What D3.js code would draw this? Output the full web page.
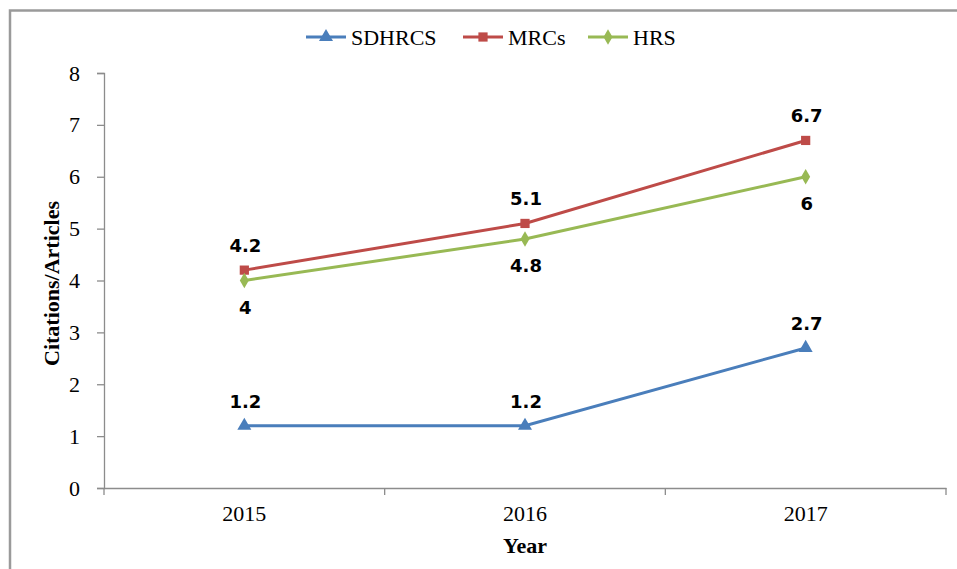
<!DOCTYPE html>
<html><head><meta charset="utf-8">
<script src="https://cdn.jsdelivr.net/npm/d3@7"></script>
<style>body{margin:0;background:#fff;}svg{display:block;}
.serif{font-family:"Liberation Serif","Times New Roman",Times,serif;}
.lbl{font-family:"DejaVu Sans",Verdana,sans-serif;font-weight:bold;font-size:18px;}
</style>
</head><body>
<script>
const years = ["2015", "2016", "2017"];
const seriesNames = ["SDHRCS", "MRCs", "HRS"];
const sdhrcs = [1.2, 1.2, 2.7];
const mrcs = [4.2, 5.1, 6.7];
const hrs = [4, 4.8, 6];
const yTicks = [0, 1, 2, 3, 4, 5, 6, 7, 8];
const colors = ["#4A7EBB", "#BE4B48", "#98B954"];
const labelPos = [["above","above","above"],["above","above","above"],["below","below","below"]];

(function(){
const W = 957, H = 569;
const svg = d3.select("body").append("svg").attr("width", W).attr("height", H);
svg.append("rect").attr("width", W).attr("height", H).attr("fill", "#fff");
svg.append("path").attr("d", `M10,${H} L10,10.5 L${W},10.5`).attr("fill","none").attr("stroke","#9a9a9a").attr("stroke-width",2.5);

const pL = 104, pR = 946, pT = 73, pB = 488;
const x = d3.scaleBand().domain(years).range([pL, pR]);
const y = d3.scaleLinear().domain([0, 8]).range([pB, pT]);

const axisColor = "#8c8c8c";
const yAxis = svg.append("g").attr("transform", `translate(${pL},0)`)
  .call(d3.axisLeft(y).tickValues(yTicks).tickSize(7).tickPadding(17).tickFormat(d3.format("d")));
const xAxis = svg.append("g").attr("transform", `translate(0,${pB})`)
  .call(d3.axisBottom(x).tickSize(0).tickPadding(17));
[yAxis, xAxis].forEach(g => {
  g.attr("font-family", null).attr("font-size", null);
  g.select(".domain").attr("stroke", axisColor).attr("stroke-width", 1.3);
  g.selectAll(".tick line").attr("stroke", axisColor).attr("stroke-width", 1.3);
  g.selectAll("text").attr("fill", "#000").attr("class", "serif").style("font-size", "22px");
});
const bounds = [pL].concat(years.map(yv => x(yv) + x.bandwidth()));
svg.append("g").selectAll("line").data(bounds).join("line")
  .attr("x1", d => d).attr("x2", d => d).attr("y1", pB).attr("y2", pB + 7)
  .attr("stroke", axisColor).attr("stroke-width", 1.3);

svg.append("text").attr("class", "serif").attr("x", (pL + pR) / 2).attr("y", 553).attr("text-anchor", "middle")
  .style("font-size", "22px").style("font-weight", "bold").text("Year");
svg.append("text").attr("class", "serif").attr("transform", `translate(59,${(pT + pB) / 2 + 3}) rotate(-90)`).attr("text-anchor", "middle")
  .style("font-size", "22px").style("font-weight", "bold").text("Citations/Articles");

const data = [sdhrcs, mrcs, hrs];
const cx = d => x(d) + x.bandwidth() / 2;
const symbols = [d3.symbolTriangle, d3.symbolSquare, d3.symbolDiamond];
const symSize = [85, 85, 70];

const line = d3.line().x((d, i) => cx(years[i])).y(d => y(d));
data.forEach((vals, s) => {
  svg.append("path").datum(vals).attr("d", line).attr("fill", "none")
    .attr("stroke", colors[s]).attr("stroke-width", 3);
  svg.append("g").selectAll("path").data(vals).join("path")
    .attr("transform", (d, i) => `translate(${cx(years[i])},${y(d)})`)
    .attr("d", d3.symbol().type(symbols[s]).size(symSize[s])).attr("fill", colors[s]);
  svg.append("g").selectAll("text").data(vals).join("text")
    .attr("class", "lbl")
    .attr("x", (d, i) => cx(years[i]) + 1)
    .attr("y", (d, i) => labelPos[s][i] === "above" ? y(d) - 18 : y(d) + 33)
    .attr("text-anchor", "middle")
    .text(d => d);
});

const legX = [306, 463, 588];
seriesNames.forEach((n, s) => {
  const g = svg.append("g").attr("transform", `translate(${legX[s]},37)`);
  g.append("line").attr("x1", 0).attr("x2", 40).attr("stroke", colors[s]).attr("stroke-width", 3);
  g.append("path").attr("transform", "translate(20,0)").attr("d", d3.symbol().type(symbols[s]).size(symSize[s])).attr("fill", colors[s]);
  g.append("text").attr("class", "serif").attr("x", 45).attr("y", 8).style("font-size", "22px").text(n);
});
})();
</script>
</body></html>
